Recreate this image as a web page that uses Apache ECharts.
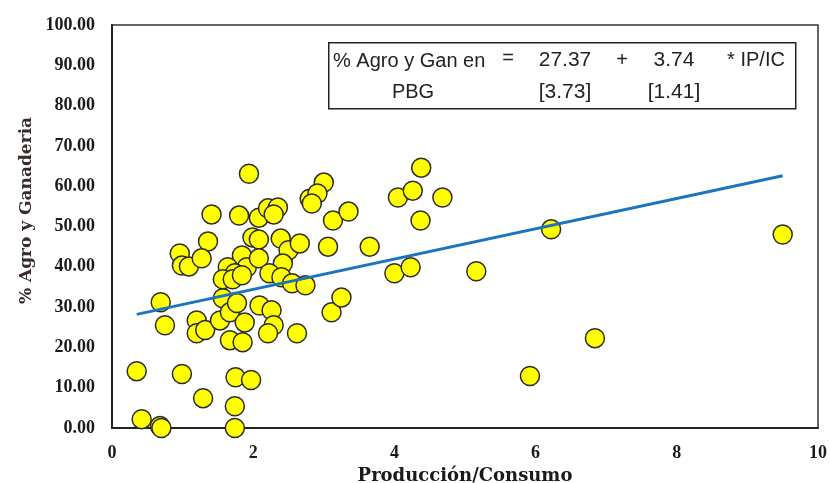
<!DOCTYPE html>
<html>
<head>
<meta charset="utf-8">
<script src="https://cdn.jsdelivr.net/npm/echarts@6/dist/echarts.min.js"></script>
<style>
html,body{margin:0;padding:0;background:#fff;}
#chart{width:830px;height:483px;}
</style>
</head>
<body>
<div id="chart"></div>
<script>
// Producción/Consumo (x) vs % Agro y Ganadería (y)
var prodCons = [0.35,0.42,0.68,0.70,0.69,0.75,0.99,1.29,1.74,1.74,1.75,1.97,
  1.20,1.20,1.32,1.53,1.57,1.67,1.77,1.88,1.67,1.85,2.09,2.26,2.29,2.21,2.62,3.11,3.25,
  1.94,1.41,1.80,2.08,2.21,2.35,2.29,3.00,2.80,2.91,2.83,3.13,3.35,
  1.36,0.96,0.99,1.09,1.27,1.99,2.08,1.84,1.64,1.91,1.74,1.57,1.71,1.84,2.08,2.39,2.50,2.66,2.42,2.23,2.40,2.55,2.74,3.06,
  3.65,4.38,4.05,4.26,4.68,4.37,4.00,4.23,5.16,
  6.22,9.50,6.84,5.92];
var agroGan = [14.1,2.2,0.5,0.0,31.2,25.5,13.4,7.4,5.4,0.0,12.6,11.9,
  26.7,23.5,24.3,26.7,32.2,28.7,31.0,26.2,21.8,21.3,30.4,29.2,25.5,23.5,23.5,28.7,32.4,
  63.1,53.0,52.7,52.2,54.5,54.7,53.0,60.9,56.9,58.2,55.7,51.5,53.7,
  46.3,43.3,40.3,40.1,42.1,47.3,46.8,42.8,39.9,39.9,38.4,36.9,36.9,37.9,42.1,47.0,44.1,45.8,40.8,38.4,37.4,35.9,35.4,45.0,
  45.0,64.6,57.2,58.9,57.2,51.5,38.4,39.9,38.9,
  49.3,48.0,22.3,12.9];
// fitted line end points
var trendX = [0.35, 9.50];
var trendY = [28.2, 62.6];
// equation box texts
var eqLine1 = ['% Agro y Gan en', '=', '27.37', '+', '3.74', '* IP/IC'];
var eqLine2 = ['PBG', '[3.73]', '[1.41]'];

var scatterData = prodCons.map(function(x,i){return [x, agroGan[i]];});
var lineData = trendX.map(function(x,i){return [x, trendY[i]];});

var serif = '"Liberation Serif", "DejaVu Serif", serif';
var wideSerif = '"DejaVu Serif", serif';
var sans = '"Liberation Sans", "DejaVu Sans", sans-serif';
var eqFont = '20px ' + sans;
var numFont = '21px ' + sans;

var chart = echarts.init(document.getElementById('chart'));
chart.setOption({
  animation: false,
  backgroundColor: '#fff',
  grid: {left:112, top:25, width:706, height:403, show:true, borderColor:'#333', borderWidth:1.5,
    backgroundColor:'transparent', containLabel:false, outerBoundsMode:'none'},
  xAxis: {
    type:'value', min:0, max:10, interval:2,
    name:'Producción/Consumo', nameLocation:'middle', nameGap:37,
    nameTextStyle:{fontFamily:wideSerif, fontWeight:'bold', fontSize:18, color:'#1a1a1a'},
    axisLine:{show:true, lineStyle:{color:'#222', width:2}},
    axisTick:{show:false}, splitLine:{show:false},
    axisLabel:{fontFamily:serif, fontWeight:'bold', fontSize:18, color:'#1a1a1a', margin:16}
  },
  yAxis: {
    type:'value', min:0, max:100, interval:10,
    name:'% Agro y Ganaderia', nameLocation:'middle', nameGap:76,
    nameTextStyle:{fontFamily:wideSerif, fontWeight:'bold', fontSize:17, color:'#3a2a2a', padding:[0,0,0,32]},
    axisLine:{show:true, lineStyle:{color:'#222', width:2}},
    axisTick:{show:false}, splitLine:{show:false},
    axisLabel:{fontFamily:serif, fontWeight:'bold', fontSize:18, color:'#1a1a1a', margin:17,
      formatter:function(v){return v.toFixed(2);}}
  },
  series: [
    {type:'scatter', data:scatterData, symbol:'circle', symbolSize:19, z:2,
      itemStyle:{color:'#FFFF00', borderColor:'#2b2b2b', borderWidth:1.5, opacity:1}},
    {type:'line', data:lineData, showSymbol:false, symbol:'none', z:3,
      lineStyle:{color:'#1c74bf', width:3}}
  ],
  graphic: [
    {type:'rect', left:328, top:42, z:10, shape:{width:467, height:66},
      style:{fill:'#fff', stroke:'#222', lineWidth:1.5}},
    {type:'text', x:333, y:61, z:11, style:{text:eqLine1[0], font:eqFont, fill:'#222', textVerticalAlign:'middle'}},
    {type:'text', x:508, y:58, z:11, style:{text:eqLine1[1], font:eqFont, fill:'#222', textAlign:'center', textVerticalAlign:'middle'}},
    {type:'text', x:565, y:60, z:11, style:{text:eqLine1[2], font:numFont, fill:'#222', textAlign:'center', textVerticalAlign:'middle'}},
    {type:'text', x:622, y:60, z:11, style:{text:eqLine1[3], font:eqFont, fill:'#222', textAlign:'center', textVerticalAlign:'middle'}},
    {type:'text', x:674, y:60, z:11, style:{text:eqLine1[4], font:numFont, fill:'#222', textAlign:'center', textVerticalAlign:'middle'}},
    {type:'text', x:756, y:60, z:11, style:{text:eqLine1[5], font:eqFont, fill:'#222', textAlign:'center', textVerticalAlign:'middle'}},
    {type:'text', x:413, y:92, z:11, style:{text:eqLine2[0], font:eqFont, fill:'#222', textAlign:'center', textVerticalAlign:'middle'}},
    {type:'text', x:565, y:92, z:11, style:{text:eqLine2[1], font:numFont, fill:'#222', textAlign:'center', textVerticalAlign:'middle'}},
    {type:'text', x:674, y:92, z:11, style:{text:eqLine2[2], font:numFont, fill:'#222', textAlign:'center', textVerticalAlign:'middle'}}
  ]
});
</script>
</body>
</html>
